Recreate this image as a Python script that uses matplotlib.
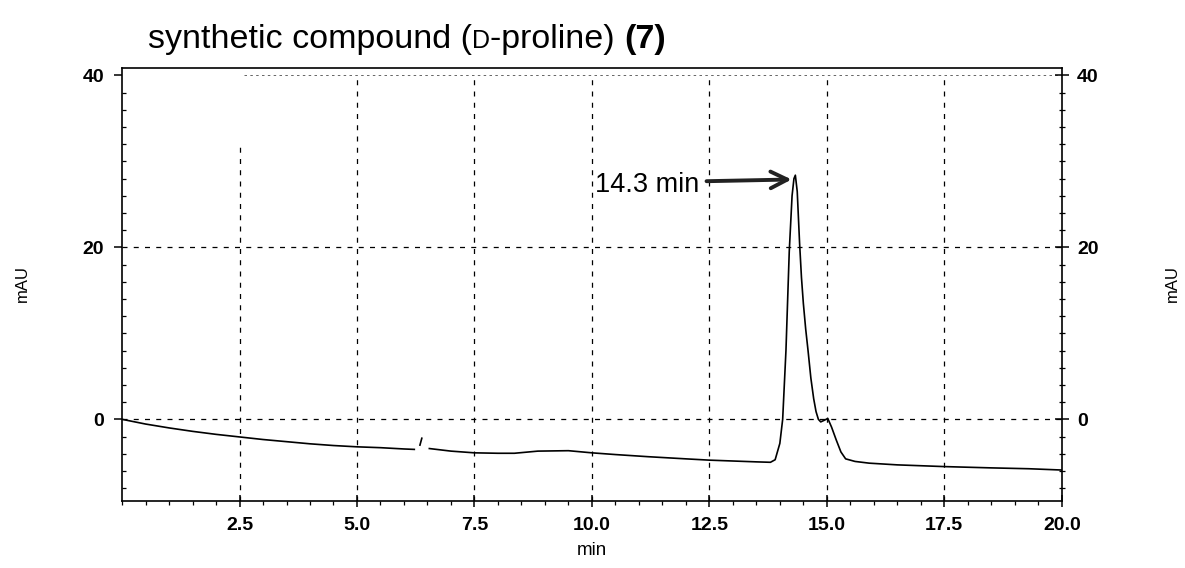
import numpy as np
import matplotlib
matplotlib.use("Agg")
import matplotlib.pyplot as plt
from matplotlib.ticker import MultipleLocator

plt.rcParams['font.family'] = ['Liberation Sans', 'DejaVu Sans']

nan = np.nan
# retention time (min) and detector signal (mAU)
time_min = [0.0, 0.5, 1.0, 1.5, 2.0, 2.5, 3.0, 3.5, 4.0, 4.5, 5.0, 5.5, 6.0, 6.22,
            nan, 6.34, 6.38, nan,
            6.54, 7.0, 7.5, 8.0, 8.35, 8.85, 9.5, 10.0, 10.5, 11.2, 12.0, 12.5,
            13.0, 13.5, 13.8, 13.9, 14.0, 14.06, 14.13, 14.2, 14.26, 14.3, 14.33,
            14.37, 14.42, 14.46, 14.5, 14.55, 14.6, 14.66, 14.72, 14.77, 14.82, 14.87,
            14.95, 15.02, 15.1, 15.2, 15.3, 15.4, 15.6, 15.9, 16.5, 17.5, 18.5, 19.3, 20.0]
signal_mau = [0.0, -0.55, -1.0, -1.4, -1.75, -2.05, -2.35, -2.6, -2.85, -3.05, -3.2, -3.3, -3.45, -3.5,
              nan, -3.0, -2.2, nan,
              -3.4, -3.7, -3.9, -3.95, -3.95, -3.7, -3.65, -3.9, -4.1, -4.35, -4.6, -4.75,
              -4.85, -4.95, -5.0, -4.7, -2.8, 0.0, 8.0, 19.5, 26.0, 28.0, 28.4,
              26.5, 20.5, 16.5, 13.5, 10.5, 8.0, 4.8, 2.4, 0.9, 0.0, -0.3,
              -0.1, 0.1, -0.9, -2.4, -3.8, -4.6, -4.9, -5.1, -5.3, -5.5, -5.65, -5.75, -5.9]

x_grid = [2.5, 5.0, 7.5, 10.0, 12.5, 15.0, 17.5]
y_grid = [0, 20]
x_ticks = [2.5, 5.0, 7.5, 10.0, 12.5, 15.0, 17.5, 20.0]
x_ticklabels = ['2.5', '5.0', '7.5', '10.0', '12.5', '15.0', '17.5', '20.0']
y_ticks = [0, 20, 40]
peak_time = 14.3
peak_label = '14.3 min'

fig = plt.figure(figsize=(11.85, 5.68), dpi=100)
ax = fig.add_axes([0.103, 0.118, 0.793, 0.762])

ax.set_xlim(0, 20)
ax.set_ylim(-9.5, 40.85)

grid_kw = dict(color='black', lw=0.9, linestyle=(0, (4, 5)), zorder=1)
for xg in x_grid:
    top = 32.2 if xg == 2.5 else 40
    ax.plot([xg, xg], [-9.5, top], **grid_kw)
for yg in y_grid:
    ax.plot([0, 20], [yg, yg], **grid_kw)
ax.plot([2.6, 20], [40, 40], color='black', lw=0.6, linestyle=(0, (3, 4)), alpha=0.7, zorder=1)

ax.plot(time_min, signal_mau, color='black', lw=1.2, zorder=3)

ax.annotate('', xy=(peak_time - 0.05, 27.9), xytext=(12.44, 27.7),
            arrowprops=dict(arrowstyle='->', lw=2.8, color='#222222',
                            mutation_scale=30, shrinkA=0, shrinkB=0))
ax.text(12.28, 27.3, peak_label, ha='right', va='center', fontsize=19.5)

for s in ax.spines.values():
    s.set_linewidth(1.2)

ax.set_xticks(x_ticks)
ax.set_xticklabels(x_ticklabels)
ax.xaxis.set_minor_locator(MultipleLocator(0.5))
ax.set_yticks(y_ticks)
ax.yaxis.set_minor_locator(MultipleLocator(2))
ax.tick_params(axis='x', which='major', direction='inout', length=9, width=1.1,
               labelsize=14, pad=7)
ax.tick_params(axis='x', which='minor', direction='out', length=3, width=0.9)
ax.tick_params(axis='y', which='major', direction='out', length=6, width=1.1,
               labelsize=14, pad=7, right=False)
ax.tick_params(axis='y', which='minor', direction='in', length=3, width=0.9, right=False)
for lab in ax.get_xticklabels() + ax.get_yticklabels():
    lab.set_fontweight('bold')

ax2 = ax.twinx()
ax2.set_ylim(ax.get_ylim())
ax2.set_yticks(y_ticks)
ax2.yaxis.set_minor_locator(MultipleLocator(2))
ax2.tick_params(axis='y', which='major', direction='inout', length=10, width=1.1,
                labelsize=14, pad=6)
ax2.tick_params(axis='y', which='minor', direction='inout', length=5, width=0.9)
for lab in ax2.get_yticklabels():
    lab.set_fontweight('bold')
for s in ax2.spines.values():
    s.set_visible(False)

ax.set_xlabel('min', fontsize=13.5, labelpad=6)
fig.text(0.019, 0.5, 'mAU', rotation=90, ha='center', va='center', fontsize=12)
fig.text(0.989, 0.5, 'mAU', rotation=90, ha='center', va='center', fontsize=12)

# title built from pieces so the D can be set in small capitals
base_y = 1 - 48 / 568
t1 = fig.text(0.125, base_y, 'synthetic compound (', fontsize=24.5, va='baseline')
t2 = fig.text(0, 0, 'D', fontsize=18, va='baseline')
t3 = fig.text(0, 0, '-proline) ', fontsize=24.5, va='baseline')
t4 = fig.text(0, 0, '(7)', fontsize=24.5, va='baseline', fontweight='bold')
fig.canvas.draw()
inv = fig.transFigure.inverted()
prev = t1
for t in (t2, t3, t4):
    bb = prev.get_window_extent()
    x1 = inv.transform((bb.x1, bb.y0))[0]
    t.set_position((x1, base_y))
    fig.canvas.draw()
    prev = t

fig.savefig('out.png', dpi=100, facecolor='white')
